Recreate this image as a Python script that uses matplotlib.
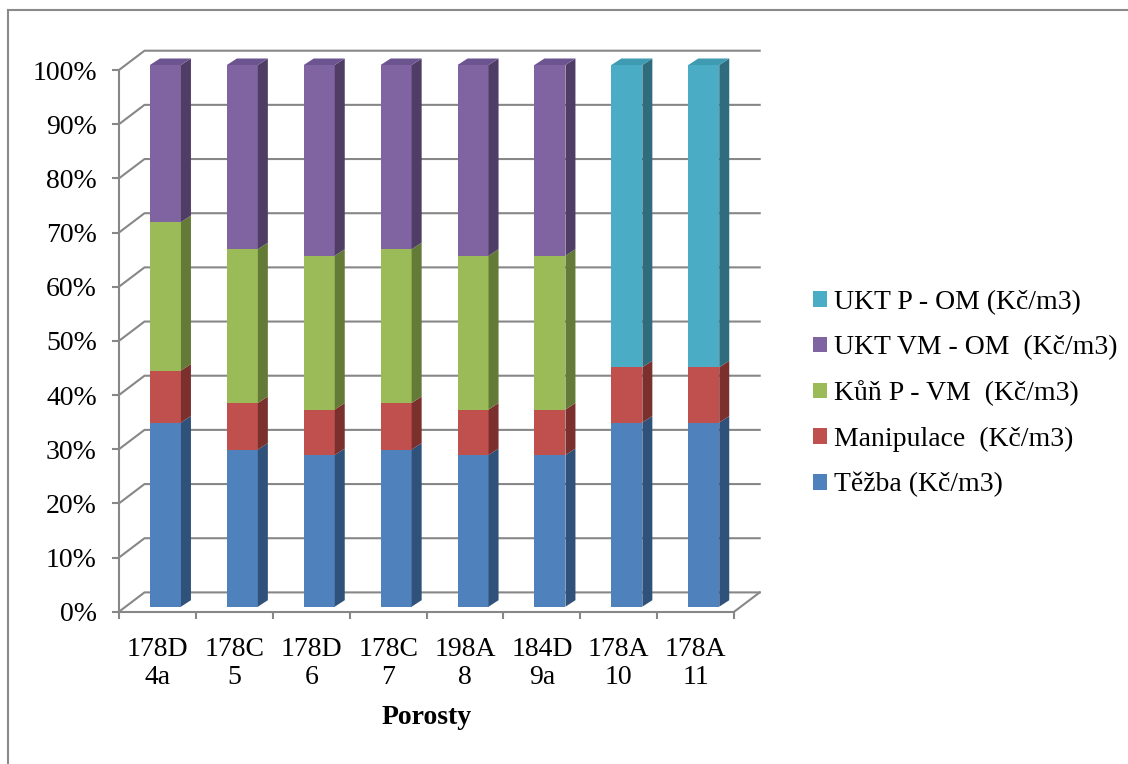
import matplotlib
matplotlib.use("Agg")
import matplotlib.pyplot as plt
from matplotlib.patches import Polygon, Patch
from matplotlib.lines import Line2D
from matplotlib.ticker import FuncFormatter
import numpy as np

# ---------------- data ----------------
categories = ["178D\n4a", "178C\n5", "178D\n6", "178C\n7",
              "198A\n8", "184D\n9a", "178A\n10", "178A\n11"]
tezba = [34.0, 29.0, 28.0, 29.0, 28.0, 28.0, 34.0, 34.0]
manipulace = [9.6, 8.6, 8.4, 8.6, 8.4, 8.4, 10.2, 10.2]
kun_p_vm = [27.4, 28.4, 28.4, 28.4, 28.4, 28.4, 0.0, 0.0]
ukt_vm_om = [29.0, 34.0, 35.2, 34.0, 35.2, 35.2, 0.0, 0.0]
ukt_p_om = [0.0, 0.0, 0.0, 0.0, 0.0, 0.0, 55.8, 55.8]
series_names = ["Těžba (Kč/m3)", "Manipulace  (Kč/m3)", "Kůň P - VM  (Kč/m3)",
                "UKT VM - OM  (Kč/m3)", "UKT P - OM (Kč/m3)"]
y_ticks = list(range(0, 101, 10))
x_title = "Porosty"

series = [tezba, manipulace, kun_p_vm, ukt_vm_om, ukt_p_om]
front_colors = ["#4F81BD", "#C0504D", "#9BBB59", "#8064A2", "#4BACC6"]
side_colors = ["#30527A", "#7B302E", "#647A37", "#4F3D66", "#2E6C7E"]
top_colors = ["#4472AA", "#A94644", "#89A64E", "#6B5490", "#3F9BB2"]
grid_color = "#878787"
FS = 20

plt.rcParams["font.family"] = ["Liberation Serif", "DejaVu Serif"]

W, H = 1128, 764
fig = plt.figure(figsize=(W / 100, H / 100), dpi=100)

# outer chart-area border (only left and top edges visible)
bx0 = 8 / W
by0 = 1 - 10 / H
fig.add_artist(Line2D([bx0, bx0], [0, by0], color="#8A8A8A", lw=1.5,
                      transform=fig.transFigure))
fig.add_artist(Line2D([bx0, 1], [by0, by0], color="#8A8A8A", lw=1.5,
                      transform=fig.transFigure))

# axes geometry (pixels)
x0_px, x1_px = 119, 763
y0_px, y1_px = 611.7, 48
px_per_cat = 76.9
px_per_pct = 5.417
ax = fig.add_axes([x0_px / W, 1 - y0_px / H, (x1_px - x0_px) / W, (y0_px - y1_px) / H])
ax.set_xlim(-0.5, -0.5 + (x1_px - x0_px) / px_per_cat)
ax.set_ylim(0, (y0_px - y1_px) / px_per_pct)
ax.patch.set_alpha(0)

n = len(categories)
# wall depth offsets
wdx = 25.5 / px_per_cat
wdy = 19.3 / px_per_pct

# gridlines: side-wall diagonals + back wall horizontals
for v in y_ticks:
    ax.plot([-0.5, -0.5 + wdx, n - 0.5 + wdx], [v, v + wdy, v + wdy],
            color=grid_color, lw=1.5, zorder=1, clip_on=False,
            solid_joinstyle="miter")
# floor right edge
ax.plot([n - 0.5, n - 0.5 + wdx], [0, wdy], color=grid_color, lw=1.5,
        zorder=1, clip_on=False)

# bars (front faces at mid-depth)
bar_dx = 8.0 / px_per_cat
bar_dy = 5.0 / px_per_pct
bw = 31.0 / px_per_cat
sdx = 10.0 / px_per_cat
sdy = 6.5 / px_per_pct

x = np.arange(n)
bottoms = np.zeros(n)
for s_idx, vals in enumerate(series):
    vals = np.array(vals, dtype=float)
    for i in range(n):
        if vals[i] <= 0:
            continue
        b = bottoms[i] + bar_dy
        ax.bar(x[i] + bar_dx, vals[i], width=bw, bottom=b,
               color=front_colors[s_idx], lw=0, zorder=3)
        xr = x[i] + bar_dx + bw / 2
        side = Polygon([(xr, b), (xr + sdx, b + sdy),
                        (xr + sdx, b + vals[i] + sdy), (xr, b + vals[i])],
                       closed=True, facecolor=side_colors[s_idx], lw=0, zorder=3)
        ax.add_patch(side)
        is_top = all(series[k][i] <= 0 for k in range(s_idx + 1, len(series)))
        if is_top:
            xl = x[i] + bar_dx - bw / 2
            t = b + vals[i]
            top = Polygon([(xl, t), (xr, t), (xr + sdx, t + sdy), (xl + sdx, t + sdy)],
                          closed=True, facecolor=top_colors[s_idx], lw=0, zorder=3)
            ax.add_patch(top)
    bottoms += vals

# spines / axes
for sp in ["top", "right"]:
    ax.spines[sp].set_visible(False)
ax.spines["left"].set_bounds(0, 100)
ax.spines["bottom"].set_bounds(-0.5, n - 0.5)
for sp in ["left", "bottom"]:
    ax.spines[sp].set_color(grid_color)
    ax.spines[sp].set_linewidth(1.5)
    ax.spines[sp].set_zorder(2)

ax.set_yticks(y_ticks)
ax.yaxis.set_major_formatter(FuncFormatter(lambda v, p: f"{int(v)}%"))
ax.tick_params(axis="y", length=5, width=1.5, color=grid_color, labelsize=FS,
               pad=11, labelcolor="black")

ax.set_xticks(x)
ax.set_xticklabels(categories, linespacing=1.15)
ax.set_xticks(np.arange(-0.5, n, 1.0), minor=True)
ax.tick_params(axis="x", which="major", length=0, labelsize=FS, pad=18)
ax.tick_params(axis="x", which="minor", length=5, width=1.5, color=grid_color)

ax.set_xlabel(x_title, fontsize=FS, fontweight="bold")
ax.xaxis.set_label_coords(((x0_px + 8 * px_per_cat / 2) - x0_px) / (x1_px - x0_px),
                          (y0_px - 718) / (y0_px - y1_px))
ax.xaxis.label.set_verticalalignment("center")

# legend (reverse order)
handles = [Patch(facecolor=front_colors[k], edgecolor="none") for k in range(len(series))]
leg = fig.legend(handles[::-1], series_names[::-1], loc="upper left",
                 bbox_to_anchor=(813 / W, 1 - 290 / H), frameon=False,
                 fontsize=FS, handlelength=0.5, handleheight=0.5,
                 handletextpad=0.27, labelspacing=0.73, borderpad=0,
                 borderaxespad=0)

fig.savefig("out.png", dpi=100)
